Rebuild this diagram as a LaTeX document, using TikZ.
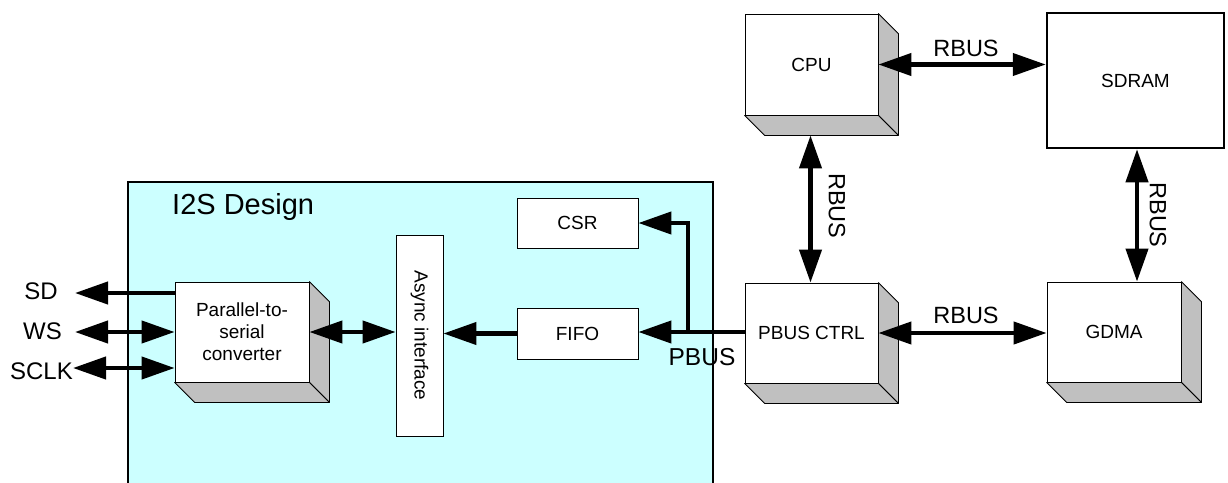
\documentclass[tikz,border=0pt]{standalone}
\usepackage{fontspec}
\setmainfont{Liberation Sans}
\usetikzlibrary{arrows.meta,calc}
\definecolor{i2sfill}{HTML}{CCFFFF}
\definecolor{shadegray}{HTML}{C0C0C0}
\tikzset{
  box/.style={draw=black, line width=0.8pt, fill=white, inner sep=0pt, align=center,
    font=\fontsize{19}{22}\selectfont},
  sideface/.style={fill=shadegray, draw=black, line width=0.8pt, line join=round},
  tip/.tip={Triangle[length=33pt,width=22pt]},
  bibus/.style={line width=4.2pt, tip-tip},
  onebus/.style={line width=4.2pt, -tip},
  lbl/.style={inner sep=0pt, font=\fontsize{23.5}{25}\selectfont},
  siglbl/.style={inner sep=0pt, font=\fontsize{24}{26}\selectfont},
}
\begin{document}
\begin{tikzpicture}[x=1pt,y=-1pt]
\useasboundingbox (0,0) rectangle (1228,482);
\fill[white] (0,0) rectangle (1228,482);

% I2S design container
\node[draw=black, line width=2pt, fill=i2sfill, inner sep=0pt, anchor=north west,
  minimum width=585pt, minimum height=305pt] (i2s) at (127,181) {};
\node[inner sep=0pt, anchor=base west, font=\fontsize{29}{31}\selectfont] (i2stitle) at (172,214) {I2S Design};

% blocks
\node[box, minimum width=133pt, minimum height=101pt] (cpu) at (811.5,64.5) {CPU};
\node[box, line width=2.5pt, minimum width=177pt, minimum height=135pt] (sdram) at (1135.5,80.5) {SDRAM};
\node[box, minimum width=133pt, minimum height=100pt] (pbus) at (811.5,333) {PBUS CTRL};
\node[box, minimum width=134pt, minimum height=100pt] (gdma) at (1114,332) {GDMA};
\node[box, minimum width=134pt, minimum height=100pt] (par) at (242,332) {Parallel-to-\\serial\\converter};
\node[box, minimum width=121pt, minimum height=50pt] (csr) at (577.5,223) {CSR};
\node[box, minimum width=121pt, minimum height=51pt] (fifo) at (577.5,333.5) {FIFO};
\node[box, minimum width=47pt, minimum height=201pt] (async) at (419.5,335.5) {};
\node[inner sep=0pt, rotate=-90, font=\fontsize{19}{21}\selectfont] (asynctxt) at (async.center) {Async interface};

% 3D faces
\foreach \n in {cpu,pbus,gdma,par}{
  \filldraw[sideface] (\n.north east) -- ++(20,20) -- ($(\n.south east)+(20,20)$) -- (\n.south east) -- cycle;
  \filldraw[sideface] (\n.south west) -- ++(20,20) -- ($(\n.south east)+(20,20)$) -- (\n.south east) -- cycle;
}

% coordinates
\coordinate (cpubot) at ($(cpu.south)+(-1,20)$);
\coordinate (br) at (688,332);
\coordinate (sdtip) at (75,293);
\coordinate (wstip) at (75,332);
\coordinate (sclktip) at (73,368);

% buses
\draw[bibus] (cpu.east) -- (sdram.west |- cpu.east);
\draw[bibus] (cpubot) -- (cpubot |- pbus.north);
\draw[bibus] (sdram.south -| 1137,0) -- (1137,0 |- gdma.north);
\draw[bibus] (pbus.east) -- (gdma.west |- pbus.east);
\draw[onebus] (pbus.west |- br) -- (fifo.east |- br);
\draw[onebus] (br) |- (csr.east);
\draw[onebus] (fifo.west) -- (async.east |- fifo.west);
\draw[bibus] (par.east) -- (async.west |- par.east);
\draw[onebus] (par.west |- sdtip) -- (sdtip);
\draw[bibus] (wstip) -- (par.west |- wstip);
\draw[bibus] (sclktip) -- (par.west |- sclktip);

% labels
\node[lbl] (l1) at (966,48) {RBUS};
\node[lbl] (l2) at (966,315) {RBUS};
\node[lbl, rotate=-90] (l3) at (837,206) {RBUS};
\node[lbl, rotate=-90] (l4) at (1158,215) {RBUS};
\node[inner sep=0pt, font=\fontsize{24.5}{26}\selectfont] (pbuslbl) at (702,357) {PBUS};
\node[siglbl] (sd) at (41,291) {SD};
\node[siglbl] (ws) at (42.5,331) {WS};
\node[siglbl, anchor=east] (sclk) at (73,371) {SCLK};
\end{tikzpicture}
\end{document}
